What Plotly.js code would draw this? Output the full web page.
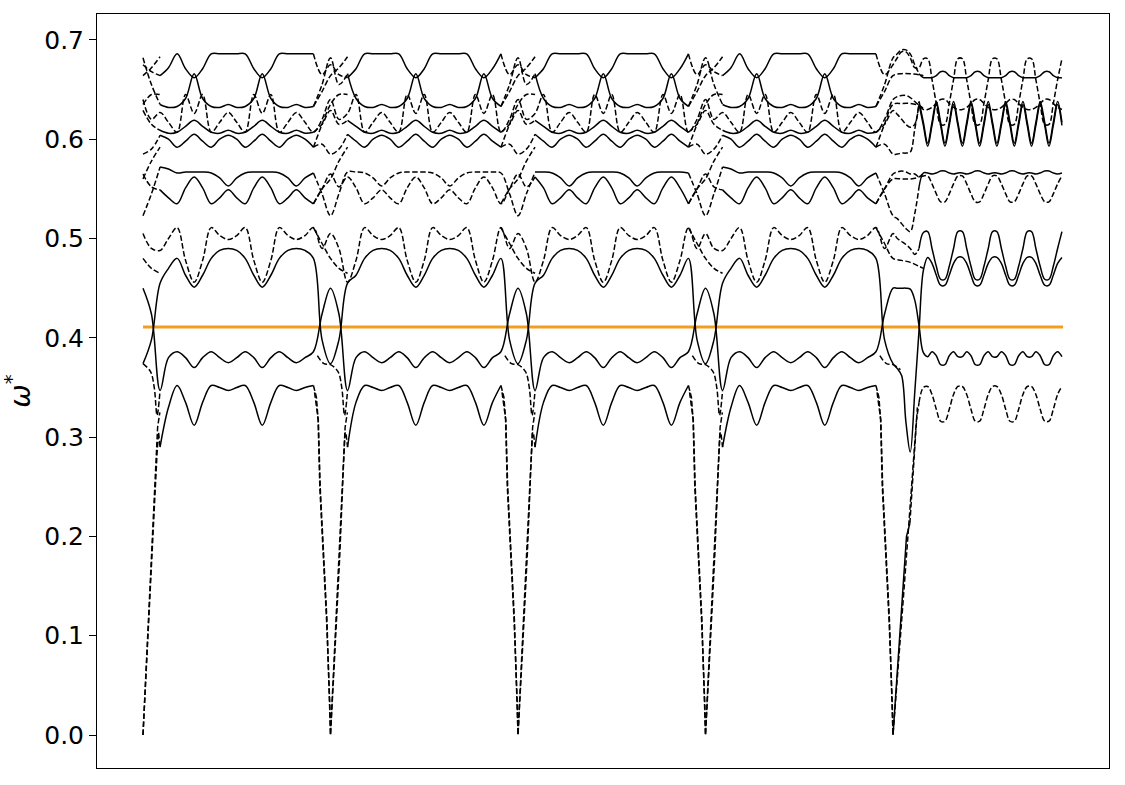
<!DOCTYPE html>
<html>
<head>
<meta charset="utf-8">
<script src="https://cdn.plot.ly/plotly-3.0.1.min.js"></script>
<style>html,body{margin:0;padding:0;background:#fff;}</style>
</head>
<body>
<div id="chart" style="width:1125px;height:785px;"></div>
<script>
// path coordinate (one unit per segment between the zero points)
var kPath = [
  0,0.045,0.091,0.136,0.182,0.227,0.273,0.318,0.364,0.409,0.455,0.5,0.545,0.591,0.636,0.682,0.727,0.773,0.818,0.864,0.909,0.955,
  1,1.045,1.091,1.136,1.182,1.227,1.273,1.318,1.364,1.409,1.455,1.5,1.545,1.591,1.636,1.682,1.727,1.773,1.818,1.864,1.909,1.955,
  2,2.045,2.091,2.136,2.182,2.227,2.273,2.318,2.364,2.409,2.455,2.5,2.545,2.591,2.636,2.682,2.727,2.773,2.818,2.864,2.909,2.955,
  3,3.045,3.091,3.136,3.182,3.227,3.273,3.318,3.364,3.409,3.455,3.5,3.545,3.591,3.636,3.682,3.727,3.773,3.818,3.864,3.909,3.955,
  4,
  4.023,4.046,4.069,4.092,4.116,4.139,4.162,4.185,4.208,4.231,4.254,4.277,4.3,4.323,4.346,4.37,4.393,4.416,4.439,4.462,
  4.485,4.508,4.531,4.554,4.578,4.601,4.624,4.647,4.67,4.693,4.716,4.739,4.762,4.785,4.809,4.832,4.855,4.878,4.901
];

// bands, bottom to top
var wL1 = [
  null,null,0.29,0.33,0.352,0.335,0.312,0.335,0.352,0.35,0.347,0.35,0.352,0.335,0.312,0.335,0.352,0.35,0.347,0.35,0.352,null,
  null,null,0.29,0.335,0.352,0.35,0.347,0.35,0.352,0.335,0.312,0.335,0.352,0.35,0.347,0.35,0.352,0.335,0.312,0.335,0.352,null,
  null,null,0.29,0.335,0.352,0.35,0.347,0.35,0.352,0.335,0.312,0.335,0.352,0.35,0.347,0.35,0.352,0.335,0.312,0.335,0.352,null,
  null,null,0.29,0.33,0.352,0.335,0.312,0.335,0.352,0.35,0.347,0.35,0.352,0.335,0.312,0.335,0.352,0.35,0.347,0.35,0.352,null,
  null,
  null,null,null,null,null,0.335,0.35,
  0.351,0.343,0.328,0.316,
  0.316,0.328,0.343,0.351,0.351,0.343,0.328,0.316,
  0.316,0.328,0.343,0.351,0.351,0.343,0.328,0.316,
  0.316,0.328,0.343,0.351,0.351,0.343,0.328,0.316,
  0.316,0.328,0.343,0.351
];
var wL2 = [
  0.45,0.424,0.347,0.38,0.386,0.38,0.37,0.38,0.386,0.38,0.375,0.38,0.386,0.38,0.37,0.38,0.386,0.38,0.375,0.38,0.386,0.424,
  0.45,0.424,0.347,0.38,0.386,0.38,0.375,0.38,0.386,0.38,0.37,0.38,0.386,0.38,0.375,0.38,0.386,0.38,0.37,0.38,0.386,0.424,
  0.45,0.424,0.347,0.38,0.386,0.38,0.375,0.38,0.386,0.38,0.37,0.38,0.386,0.38,0.375,0.38,0.386,0.38,0.37,0.38,0.386,0.424,
  0.45,0.424,0.347,0.38,0.386,0.38,0.37,0.38,0.386,0.38,0.375,0.38,0.386,0.38,0.37,0.38,0.386,0.38,0.375,0.38,0.386,0.424,
  0.45,
  0.45,0.45,0.45,0.449,0.438,0.412,0.385,
  0.381,0.386,0.382,0.373,
  0.373,0.382,0.386,0.381,0.381,0.386,0.382,0.373,
  0.373,0.382,0.386,0.381,0.381,0.386,0.382,0.373,
  0.373,0.382,0.386,0.381,0.381,0.386,0.382,0.373,
  0.373,0.382,0.386,0.381
];
var wL3 = [
  0.374,0.398,0.455,0.47,0.48,0.463,0.451,0.463,0.48,0.488,0.49,0.488,0.48,0.463,0.451,0.463,0.48,0.488,0.49,0.488,0.48,0.398,
  0.374,0.398,0.455,0.463,0.48,0.488,0.49,0.488,0.48,0.463,0.451,0.463,0.48,0.488,0.49,0.488,0.48,0.463,0.451,0.463,0.48,0.398,
  0.374,0.398,0.455,0.463,0.48,0.488,0.49,0.488,0.48,0.463,0.451,0.463,0.48,0.488,0.49,0.488,0.48,0.463,0.451,0.463,0.48,0.398,
  0.374,0.398,0.455,0.47,0.48,0.463,0.451,0.463,0.48,0.488,0.49,0.488,0.48,0.463,0.451,0.463,0.48,0.488,0.49,0.488,0.48,0.398,
  0.374,
  0.369,0.362,0.315,0.285,0.345,0.408,0.468,
  0.481,0.475,0.463,0.453,
  0.453,0.463,0.475,0.481,0.481,0.475,0.463,0.453,
  0.453,0.463,0.475,0.481,0.481,0.475,0.463,0.453,
  0.453,0.463,0.475,0.481,0.481,0.475,0.463,0.453,
  0.453,0.463,0.475,0.481
];
var wL4 = [
  0.505,0.49,0.488,0.5,0.511,0.478,0.456,0.478,0.511,0.503,0.499,0.503,0.511,0.478,0.456,0.478,0.511,0.503,0.499,0.503,0.511,0.49,
  0.505,0.49,0.456,0.478,0.511,0.503,0.499,0.503,0.511,0.478,0.456,0.478,0.511,0.503,0.499,0.503,0.511,0.478,0.456,0.478,0.511,0.49,
  0.505,0.49,0.456,0.478,0.511,0.503,0.499,0.503,0.511,0.478,0.456,0.478,0.511,0.503,0.499,0.503,0.511,0.478,0.456,0.478,0.511,0.49,
  0.505,0.49,0.488,0.5,0.511,0.478,0.456,0.478,0.511,0.503,0.499,0.503,0.511,0.478,0.456,0.478,0.511,0.503,0.499,0.503,0.511,0.49,
  0.505,
  0.5,0.497,0.494,0.49,0.484,0.49,0.506,
  0.507,0.49,0.472,0.459,
  0.459,0.472,0.49,0.507,0.507,0.49,0.472,0.459,
  0.459,0.472,0.49,0.507,0.507,0.49,0.472,0.459,
  0.459,0.472,0.49,0.507,0.507,0.49,0.472,0.459,
  0.459,0.472,0.49,0.507
];
var wMlo = [
  0.565,0.552,0.549,0.541,0.535,0.551,0.562,0.551,0.535,0.541,0.549,0.541,0.535,0.551,0.562,0.551,0.535,0.541,0.549,0.541,0.535,0.55,
  0.565,0.552,0.562,0.551,0.535,0.541,0.549,0.541,0.535,0.551,0.562,0.551,0.535,0.541,0.549,0.541,0.535,0.551,0.562,0.551,0.535,0.55,
  0.565,0.552,0.562,0.551,0.535,0.541,0.549,0.541,0.535,0.551,0.562,0.551,0.535,0.541,0.549,0.541,0.535,0.551,0.562,0.551,0.535,0.55,
  0.565,0.552,0.549,0.541,0.535,0.551,0.562,0.551,0.535,0.541,0.549,0.541,0.535,0.551,0.562,0.551,0.535,0.541,0.549,0.541,0.535,0.55,
  0.565,
  0.567,0.568,0.567,0.565,0.565,0.562,0.563,
  0.563,0.555,0.545,0.537,
  0.537,0.545,0.555,0.563,0.563,0.555,0.545,0.537,
  0.537,0.545,0.555,0.563,0.563,0.555,0.545,0.537,
  0.537,0.545,0.555,0.563,0.563,0.555,0.545,0.537,
  0.537,0.545,0.555,0.563
];
var wMhi = [
  0.523,0.545,0.572,0.57,0.566,0.567,0.567,0.567,0.566,0.561,0.553,0.561,0.566,0.567,0.567,0.567,0.566,0.561,0.553,0.561,0.566,0.545,
  0.523,0.545,0.567,0.567,0.566,0.561,0.553,0.561,0.566,0.567,0.567,0.567,0.566,0.561,0.553,0.561,0.566,0.567,0.567,0.567,0.566,0.545,
  0.523,0.545,0.567,0.567,0.566,0.561,0.553,0.561,0.566,0.567,0.567,0.567,0.566,0.561,0.553,0.561,0.566,0.567,0.567,0.567,0.566,0.545,
  0.523,0.545,0.572,0.57,0.566,0.567,0.567,0.567,0.566,0.561,0.553,0.561,0.566,0.567,0.567,0.567,0.566,0.561,0.553,0.561,0.566,0.545,
  0.523,
  0.52,0.515,0.51,0.507,0.525,0.552,0.566,
  0.566,0.565,0.566,0.568,
  0.568,0.566,0.565,0.566,0.566,0.565,0.566,0.568,
  0.568,0.566,0.565,0.566,0.566,0.565,0.566,0.568,
  0.568,0.566,0.565,0.566,0.566,0.565,0.566,0.568,
  0.568,0.566,0.565,0.566
];
var wT5 = [
  0.585,0.59,0.604,0.6,0.592,0.598,0.605,0.598,0.592,0.6,0.604,0.6,0.592,0.598,0.605,0.598,0.592,0.6,0.604,0.6,0.592,0.595,
  0.585,0.59,0.605,0.598,0.592,0.6,0.604,0.6,0.592,0.598,0.605,0.598,0.592,0.6,0.604,0.6,0.592,0.598,0.605,0.598,0.592,0.595,
  0.585,0.59,0.605,0.598,0.592,0.6,0.604,0.6,0.592,0.598,0.605,0.598,0.592,0.6,0.604,0.6,0.592,0.598,0.605,0.598,0.592,0.595,
  0.585,0.59,0.604,0.6,0.592,0.598,0.605,0.598,0.592,0.6,0.604,0.6,0.592,0.598,0.605,0.598,0.592,0.6,0.604,0.6,0.592,0.595,
  0.585,
  0.585,0.586,0.586,0.587,0.61,
  0.635,0.614,0.593,0.614,0.635,0.614,0.593,0.614,0.635,0.614,0.593,0.614,0.635,0.614,0.593,0.614,
  0.635,0.614,0.593,0.614,0.635,0.614,0.593,0.614,0.635,0.614,0.593,0.614,0.635,0.614,0.593,0.614,
  0.635,0.614
];
var wT4 = [
  0.629,0.615,0.609,0.606,0.607,0.613,0.619,0.613,0.607,0.606,0.609,0.606,0.607,0.613,0.619,0.613,0.607,0.606,0.609,0.606,0.607,0.615,
  0.629,0.615,0.619,0.613,0.607,0.606,0.609,0.606,0.607,0.613,0.619,0.613,0.607,0.606,0.609,0.606,0.607,0.613,0.619,0.613,0.607,0.615,
  0.629,0.615,0.619,0.613,0.607,0.606,0.609,0.606,0.607,0.613,0.619,0.613,0.607,0.606,0.609,0.606,0.607,0.613,0.619,0.613,0.607,0.615,
  0.629,0.615,0.609,0.606,0.607,0.613,0.619,0.613,0.607,0.606,0.609,0.606,0.607,0.613,0.619,0.613,0.607,0.606,0.609,0.606,0.607,0.615,
  0.629,
  0.625,0.62,0.615,0.612,0.615,
  0.638,0.617,0.596,0.617,0.638,0.617,0.596,0.617,0.638,0.617,0.596,0.617,0.638,0.617,0.596,0.617,
  0.638,0.617,0.596,0.617,0.638,0.617,0.596,0.617,0.638,0.617,0.596,0.617,0.638,0.617,0.596,0.617,
  0.638,0.617
];
var wT3 = [
  0.64,0.62,0.627,0.617,0.607,0.645,0.626,0.645,0.607,0.617,0.627,0.617,0.607,0.645,0.626,0.645,0.607,0.617,0.627,0.617,0.607,0.62,
  0.64,0.62,0.626,0.645,0.607,0.617,0.627,0.617,0.607,0.645,0.626,0.645,0.607,0.617,0.627,0.617,0.607,0.645,0.626,0.645,0.607,0.62,
  0.64,0.62,0.626,0.645,0.607,0.617,0.627,0.617,0.607,0.645,0.626,0.645,0.607,0.617,0.627,0.617,0.607,0.645,0.626,0.645,0.607,0.62,
  0.64,0.62,0.627,0.617,0.607,0.645,0.626,0.645,0.607,0.617,0.627,0.617,0.607,0.645,0.626,0.645,0.607,0.617,0.627,0.617,0.607,0.62,
  0.64,
  0.643,0.644,0.644,0.642,0.638,0.634,0.63,
  0.63,0.632,0.636,0.64,
  0.64,0.636,0.632,0.63,0.63,0.632,0.636,0.64,
  0.64,0.636,0.632,0.63,0.63,0.632,0.636,0.64,
  0.64,0.636,0.632,0.63,0.63,0.632,0.636,0.64,
  0.64,0.636,0.632,0.63
];
var wT2 = [
  0.682,0.655,0.635,0.632,0.633,0.641,0.666,0.641,0.633,0.632,0.635,0.632,0.633,0.641,0.666,0.641,0.633,0.632,0.635,0.632,0.633,0.655,
  0.682,0.655,0.666,0.641,0.633,0.632,0.635,0.632,0.633,0.641,0.666,0.641,0.633,0.632,0.635,0.632,0.633,0.641,0.666,0.641,0.633,0.655,
  0.682,0.655,0.666,0.641,0.633,0.632,0.635,0.632,0.633,0.641,0.666,0.641,0.633,0.632,0.635,0.632,0.633,0.641,0.666,0.641,0.633,0.655,
  0.682,0.655,0.635,0.632,0.633,0.641,0.666,0.641,0.633,0.632,0.635,0.632,0.633,0.641,0.666,0.641,0.633,0.632,0.635,0.632,0.633,0.655,
  0.682,
  0.686,0.69,0.69,0.686,0.675,0.666,0.662,
  0.662,0.662,0.664,0.668,
  0.668,0.664,0.662,0.662,0.662,0.662,0.664,0.668,
  0.668,0.664,0.662,0.662,0.662,0.662,0.664,0.668,
  0.668,0.664,0.662,0.662,0.662,0.662,0.664,0.668,
  0.668,0.664,0.662,0.662
];
var wT1 = [
  0.675,0.668,0.664,0.672,0.686,0.671,0.662,0.671,0.686,0.686,0.686,0.686,0.686,0.671,0.662,0.671,0.686,0.686,0.686,0.686,0.686,0.665,
  0.675,0.665,0.662,0.671,0.686,0.686,0.686,0.686,0.686,0.671,0.662,0.671,0.686,0.686,0.686,0.686,0.686,0.671,0.662,0.671,0.686,0.665,
  0.675,0.665,0.662,0.671,0.686,0.686,0.686,0.686,0.686,0.671,0.662,0.671,0.686,0.686,0.686,0.686,0.686,0.671,0.662,0.671,0.686,0.665,
  0.675,0.668,0.664,0.672,0.686,0.671,0.662,0.671,0.686,0.686,0.686,0.686,0.686,0.671,0.662,0.671,0.686,0.686,0.686,0.686,0.686,0.665,
  0.675,
  0.682,0.688,0.688,0.682,0.672,0.672,0.681,
  0.681,0.66,0.636,0.615,
  0.615,0.636,0.66,0.681,0.681,0.66,0.636,0.615,
  0.615,0.636,0.66,0.681,0.681,0.66,0.636,0.615,
  0.615,0.636,0.66,0.681,0.681,0.66,0.636,0.615,
  0.615,0.636,0.66,0.681
];

// extra branches that only show up around the zero points
var gammaK = [0,0.045,0.091,null, 0.909,0.955,1,1.045,1.091,null, 1.909,1.955,2,2.045,2.091,null, 2.909,2.955,3,3.045,3.091,null, 3.909,3.955,4,4.046,4.092,4.139,4.162];
var wE1 = [0.664,0.672,0.683,null, 0.633,0.648,0.664,0.672,0.683,null, 0.633,0.648,0.664,0.672,0.683,null, 0.633,0.648,0.664,0.672,0.683,null, 0.633,0.648,0.664,0.666,0.666,0.665,0.664];
var wE2 = [0.635,0.645,0.645,null, 0.592,0.615,0.635,0.645,0.645,null, 0.592,0.615,0.635,0.645,0.645,null, 0.592,0.615,0.635,0.645,0.645,null, 0.592,0.615,0.635,0.636,0.636,0.634,0.631];
var wE3 = [0.56,0.578,0.592,null, 0.535,0.55,0.56,0.578,0.592,null, 0.535,0.55,0.56,0.578,0.592,null, 0.535,0.55,0.56,0.578,0.592,null, 0.535,0.55,0.56,0.56,0.56,0.562,0.566];
var wE4 = [0.48,0.47,0.465,null, 0.511,0.495,0.48,0.47,0.465,null, 0.511,0.495,0.48,0.47,0.465,null, 0.511,0.495,0.48,0.47,0.465,null, 0.511,0.495,0.48,0.478,0.476,0.472,0.47];

var dipK = [0,0.04,0.06,0.075,0.091,null, 0.93,0.965,1,1.04,1.06,1.075,1.091,null, 1.93,1.965,2,2.04,2.06,2.075,2.091,null, 2.93,2.965,3,3.04,3.06,3.075,3.091,null, 3.93,3.965,4,4.04];
var dipW = [0.374,0.366,0.35,0.322,0.347,null, 0.382,0.374,0.373,0.366,0.35,0.322,0.347,null, 0.382,0.374,0.373,0.366,0.35,0.322,0.347,null, 0.382,0.374,0.373,0.366,0.35,0.322,0.347,null, 0.382,0.374,0.373,0.368];

// acoustic branches going to zero
var acoK = [
  0,0.03,0.057,0.075,0.083,0.091,null,
  0.909,0.925,0.934,0.943,0.961,0.979,0.996,1,1.023,1.05,1.068,1.077,1.082,1.091,null,
  1.909,1.925,1.934,1.943,1.961,1.979,1.996,2,2.023,2.05,2.068,2.077,2.082,2.091,null,
  2.909,2.925,2.934,2.943,2.961,2.979,2.996,3,3.023,3.05,3.068,3.077,3.082,3.091,null,
  3.909,3.925,3.934,3.943,3.961,3.979,3.996,4,4.06,4.1,4.125,4.139
];
var acoW = [
  0,0.116,0.216,0.284,0.305,0.29,null,
  0.352,0.34,0.317,0.25,0.183,0.116,0.032,0,0.082,0.183,0.267,0.304,0.305,0.29,null,
  0.352,0.34,0.317,0.25,0.183,0.116,0.032,0,0.082,0.183,0.267,0.304,0.305,0.29,null,
  0.352,0.34,0.317,0.25,0.183,0.116,0.032,0,0.082,0.183,0.267,0.304,0.305,0.29,null,
  0.352,0.34,0.317,0.25,0.183,0.116,0.032,0,0.15,0.25,0.317,0.335
];
var aco2K = [
  0,0.025,0.05,0.068,0.078,0.09,null,
  0.915,0.935,0.945,0.963,0.981,1,1.025,1.05,1.068,1.078,1.09,null,
  1.915,1.935,1.945,1.963,1.981,2,2.025,2.05,2.068,2.078,2.09,null,
  2.915,2.935,2.945,2.963,2.981,3,3.025,3.05,3.068,3.078,3.09,null,
  3.915,3.935,3.945,3.963,3.981,4,null,
  4.09,4.105,4.12,4.13
];
var aco2W = [
  0,0.1,0.2,0.27,0.31,0.325,null,
  0.345,0.317,0.25,0.183,0.116,0,0.1,0.2,0.27,0.31,0.325,null,
  0.345,0.317,0.25,0.183,0.116,0,0.1,0.2,0.27,0.31,0.325,null,
  0.345,0.317,0.25,0.183,0.116,0,0.1,0.2,0.27,0.31,0.325,null,
  0.345,0.317,0.25,0.183,0.116,0,null,
  0.213,0.26,0.31,0.33
];
var armK = [4,4.035,4.072,4.09];
var armW = [0,0.1,0.2,0.213];

// reference frequency
var refK = [0,4.907];
var refW = [0.411,0.411];

var yTicks = [0,0.1,0.2,0.3,0.4,0.5,0.6,0.7];
var yTickText = ['0.0','0.1','0.2','0.3','0.4','0.5','0.6','0.7'];

// styling
var DASH = '5.5px,2.5px';
var GAMMA = [[-1,0.07],[0.93,1.07],[1.93,2.07],[2.93,3.07],[3.93,4.15]];

var bands = [
  {y: wL1, dashed: [[4,6]]},
  {y: wL2, dashed: []},
  {y: wL3, dashed: []},
  {y: wL4, dashed: [[-1,4.15]]},
  {y: wMlo, dashed: GAMMA.concat([[1,2],[4,6]])},
  {y: wMhi, dashed: GAMMA.concat([[1,2]])},
  {y: wT5, dashed: GAMMA},
  {y: wT4, dashed: GAMMA},
  {y: wT3, dashed: [[-1,6]]},
  {y: wT2, dashed: GAMMA},
  {y: wT1, dashed: GAMMA.concat([[4,6]])}
];

bands.forEach(function (b, i) {
  if (b.y.length !== kPath.length) throw new Error('band ' + i + ' has ' + b.y.length + ' points');
});

function inRanges(k, ranges) {
  return ranges.some(function (r) { return k >= r[0] && k < r[1]; });
}

// split one band into the runs drawn with a given style
function runs(xs, ys, ranges, wantDashed) {
  var X = [], Y = [], last = -1;
  for (var i = 0; i < xs.length - 1; i++) {
    if (ys[i] == null || ys[i + 1] == null) continue;
    var d = inRanges((xs[i] + xs[i + 1]) / 2, ranges);
    if (d !== wantDashed) continue;
    if (last !== i) {
      if (X.length) { X.push(null); Y.push(null); }
      X.push(xs[i]); Y.push(ys[i]);
    }
    X.push(xs[i + 1]); Y.push(ys[i + 1]);
    last = i + 1;
  }
  return {x: X, y: Y};
}

function lineTrace(x, y, dashed, shape) {
  return {
    x: x, y: y, mode: 'lines', type: 'scatter', hoverinfo: 'skip',
    line: {color: '#000', width: 1.5, dash: dashed ? DASH : 'solid', shape: shape || 'spline', smoothing: 1}
  };
}

var data = [];

data.push({
  x: refK, y: refW, mode: 'lines', type: 'scatter', hoverinfo: 'skip',
  line: {color: '#f59d1e', width: 3}
});

bands.forEach(function (b) {
  var s = runs(kPath, b.y, b.dashed, false);
  var d = runs(kPath, b.y, b.dashed, true);
  if (s.x.length) data.push(lineTrace(s.x, s.y, false));
  if (d.x.length) data.push(lineTrace(d.x, d.y, true));
});

[wE1, wE2, wE3, wE4].forEach(function (w) {
  data.push(lineTrace(gammaK, w, true));
});
data.push(lineTrace(dipK, dipW, true));
data.push(lineTrace(acoK, acoW, true, 'linear'));
data.push(lineTrace(aco2K, aco2W, true, 'linear'));
data.push(lineTrace(armK, armW, false, 'linear'));

var layout = {
  width: 1125,
  height: 785,
  margin: {l: 97, r: 16, t: 14, b: 17},
  paper_bgcolor: '#fff',
  plot_bgcolor: '#fff',
  showlegend: false,
  font: {family: 'DejaVu Sans', color: '#000'},
  xaxis: {
    range: [-0.2453, 5.152],
    showticklabels: false, ticks: '',
    showgrid: false, zeroline: false,
    showline: true, mirror: true, linecolor: '#000', linewidth: 1
  },
  yaxis: {
    range: [-0.0332, 0.7261],
    tickvals: yTicks, ticktext: yTickText,
    ticks: 'outside', ticklen: 7, tickwidth: 1, tickcolor: '#000',
    tickfont: {size: 25},
    showgrid: false, zeroline: false,
    showline: true, mirror: true, linecolor: '#000', linewidth: 1,
    title: {text: '<i>ω</i><sup>*</sup>', font: {size: 28}, standoff: 12}
  }
};

Plotly.newPlot('chart', data, layout, {staticPlot: true, displayModeBar: false});
</script>
</body>
</html>
